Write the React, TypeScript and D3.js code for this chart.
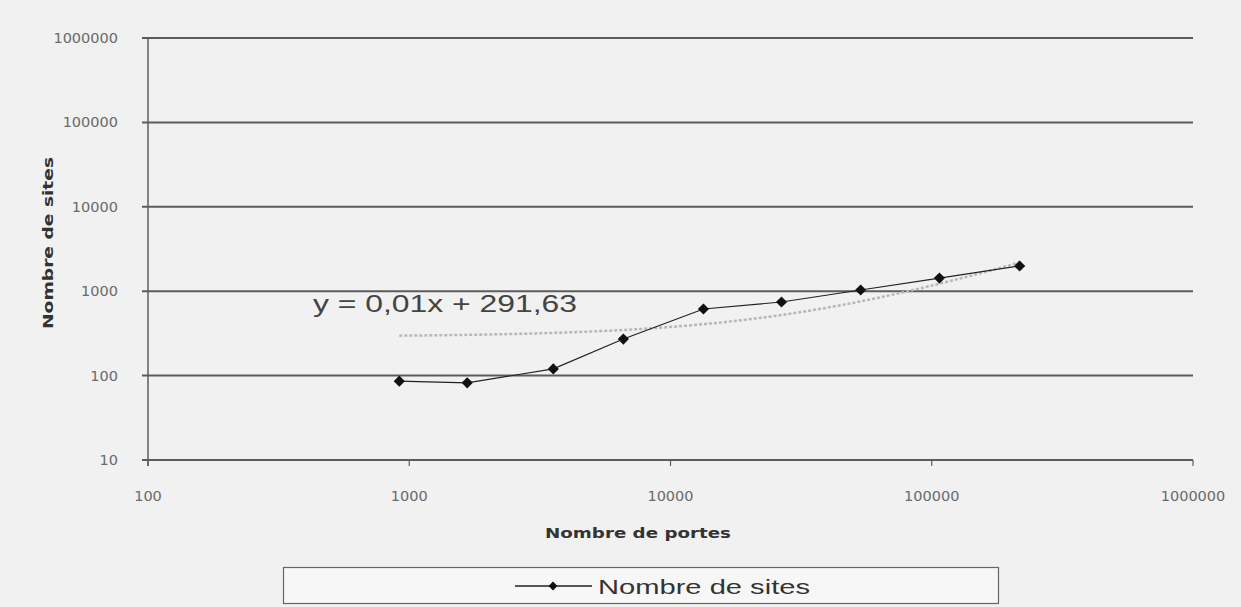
import React from 'react';
import * as d3 from 'd3';

// values
const portes = [916, 1667, 3560, 6600, 13370, 26600, 53450, 107000, 217000];
const sites = [86, 82, 120, 271, 615, 745, 1033, 1432, 1990];
const xTicks = [100, 1000, 10000, 100000, 1000000];
const yTicks = [10, 100, 1000, 10000, 100000, 1000000];
const equationLabel = 'y = 0,01x + 291,63';
const seriesName = 'Nombre de sites';
const xTitle = 'Nombre de portes';
const yTitle = 'Nombre de sites';

const W = 1241;
const H = 607;
const WIDE = '"DejaVu Sans", Verdana, sans-serif';
const ARIAL = '"Liberation Sans", Arial, sans-serif';

export default function App() {
  const x = d3.scaleLog().domain([100, 1000000]).range([148, 1193]);
  const y = d3.scaleLog().domain([10, 1000000]).range([460, 38]);

  // linear least squares like the excel trendline
  const mx = d3.mean(portes) as number;
  const my = d3.mean(sites) as number;
  let sxy = 0;
  let sxx = 0;
  portes.forEach((p, i) => {
    sxy += (p - mx) * (sites[i] - my);
    sxx += (p - mx) * (p - mx);
  });
  const slope = sxy / sxx;
  const intercept = my - slope * mx;
  const xmin = d3.min(portes) as number;
  const xmax = d3.max(portes) as number;
  const trendX = d3.range(0, 101).map(i => xmin * Math.pow(xmax / xmin, i / 100));

  const line = d3.line<[number, number]>().x(d => x(d[0])).y(d => y(d[1]));
  const dataLine = line(portes.map((p, i) => [p, sites[i]] as [number, number]));
  const trendLine = line(trendX.map(v => [v, slope * v + intercept] as [number, number]));
  const diamond = d3.symbol().type(d3.symbolDiamond2).size(80)();
  const smallDiamond = d3.symbol().type(d3.symbolDiamond2).size(50)();

  return (
    <svg width={W} height={H} style={{ position: 'absolute', left: 0, top: 0 }}>
      <rect x={0} y={0} width={W} height={H} fill="#f1f1f1" />
      {yTicks.map(t => (
        <g key={'y' + t}>
          <line x1={142} x2={1193} y1={y(t)} y2={y(t)} stroke="#5c5c5c" strokeWidth={2} />
          <text x={118} y={y(t) + 5} textAnchor="end" fontSize={14.5} fontFamily={WIDE} fill="#6a6a6a">{t}</text>
        </g>
      ))}
      <line x1={148} x2={148} y1={38} y2={466} stroke="#5c5c5c" strokeWidth={1.5} />
      {xTicks.map(t => (
        <g key={'x' + t}>
          <line x1={x(t)} x2={x(t)} y1={460} y2={466} stroke="#5c5c5c" strokeWidth={1.2} />
          <text x={x(t)} y={501} textAnchor="middle" fontSize={14.5} fontFamily={WIDE} fill="#6a6a6a">{t}</text>
        </g>
      ))}
      <text x={638} y={538} textAnchor="middle" fontSize={14} fontWeight="bold" fontFamily={WIDE}
        fill="#333" textLength={186} lengthAdjust="spacingAndGlyphs">{xTitle}</text>
      <text transform={`translate(53,243) rotate(-90)`} textAnchor="middle" fontSize={14} fontWeight="bold"
        fontFamily={WIDE} fill="#333" textLength={172} lengthAdjust="spacingAndGlyphs">{yTitle}</text>

      <path d={trendLine || ''} fill="none" stroke="#b8b8b8" strokeWidth={2.5} strokeDasharray="3,2" />
      <path d={dataLine || ''} fill="none" stroke="#222" strokeWidth={1.2} />
      {portes.map((p, i) => (
        <path key={'m' + i} d={diamond || ''} transform={`translate(${x(p)},${y(sites[i])})`} fill="#111" />
      ))}
      <text x={313} y={312} fontSize={24} fontFamily={ARIAL} fill="#444"
        textLength={264} lengthAdjust="spacingAndGlyphs">{equationLabel}</text>

      <rect x={283.5} y={567.5} width={715} height={36} fill="#f7f7f7" stroke="#666" strokeWidth={1.2} />
      <line x1={515} x2={592} y1={586} y2={586} stroke="#222" strokeWidth={1.5} />
      <path d={smallDiamond || ''} transform="translate(553,586)" fill="#111" />
      <text x={598} y={594} fontSize={21} fontFamily={ARIAL} fill="#333"
        textLength={212} lengthAdjust="spacingAndGlyphs">{seriesName}</text>
    </svg>
  );
}
